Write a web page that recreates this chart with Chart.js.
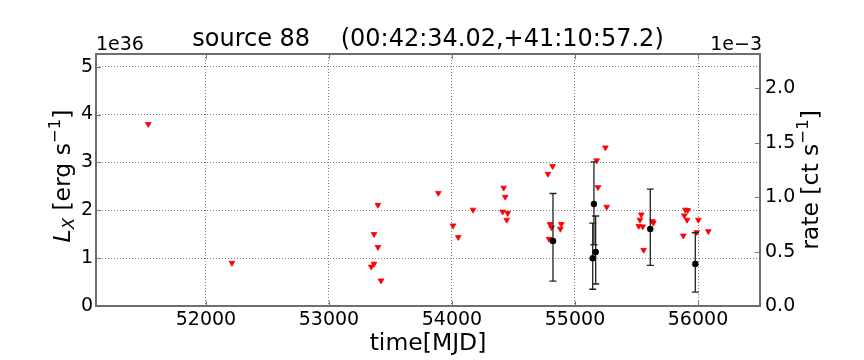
<!DOCTYPE html>
<html>
<head>
<meta charset="utf-8">
<script src="https://cdn.jsdelivr.net/npm/chart.js@4/dist/chart.umd.min.js"></script>
<style>
  html, body { margin: 0; padding: 0; background: #fff; }
  #wrap { width: 864px; height: 360px; }
</style>
</head>
<body>
<div id="wrap"><canvas id="lc" width="864" height="360"></canvas></div>
<script>
// upper limits (red triangles): time [MJD] and L_X [1e36 erg/s]
const limitTimes = [51531, 52211, 53344, 53366, 53366, 53398, 53398, 53423, 53889, 54008,
  54051, 54171, 54412, 54420, 54433, 54445, 54453, 54780, 54789, 54797,
  54810, 54818, 54881, 54889, 55176, 55187, 55247, 55258, 55518, 55528,
  55539, 55550, 55558, 55629, 55637, 55881, 55889, 55897, 55911, 55916,
  55989, 56003, 56084];
const limitLum = [3.80, 0.90, 0.82, 0.88, 1.50, 1.23, 2.11, 0.53, 2.36, 1.68,
  1.44, 2.01, 1.97, 2.47, 2.28, 1.80, 1.94, 2.76, 1.40, 1.71,
  1.64, 2.92, 1.61, 1.71, 3.04, 2.48, 3.31, 2.07, 1.67, 1.80,
  1.91, 1.66, 1.17, 1.77, 1.74, 1.47, 1.89, 2.01, 1.80, 2.00,
  1.54, 1.80, 1.56];

// detections (black dots) with error bar ends
const detTimes = [54821, 55144, 55154, 55168, 55612, 55978];
const detLum   = [1.36, 1.00, 2.13, 1.13, 1.61, 0.88];
const detLow   = [0.52, 0.35, 1.28, 0.46, 0.85, 0.29];
const detHigh  = [2.35, 1.73, 3.01, 1.88, 2.44, 1.53];

// tick labels
const xTickValues = [52000, 53000, 54000, 55000, 56000];
const lumTicks = [0, 1, 2, 3, 4, 5];
const rateTicks = [0, 0.5, 1.0, 1.5, 2.0];

const xMin = 51106, xMax = 56504;
const lumMax = 5.265;   // left axis, units of 1e36
const rateMax = 2.315;  // right axis, units of 1e-3

const FONT = 'DejaVu Sans';

const limitPts = limitTimes.map((t, i) => ({ x: t, y: limitLum[i] }));
const detPts = detTimes.map((t, i) => ({ x: t, y: detLum[i] }));
const fixTicks = vals => s => { s.ticks = vals.map(v => ({ value: v })); };

// error bars, drawn right after the triangles so dots sit on top
const errorBars = {
  id: 'errorBars',
  afterDatasetDraw(chart, args) {
    if (args.index !== 1) return;
    const { ctx, scales: { x, y } } = chart;
    ctx.save();
    ctx.strokeStyle = '#222';
    ctx.lineWidth = 1.3;
    detTimes.forEach((t, i) => {
      const px = x.getPixelForValue(t);
      const lo = y.getPixelForValue(detLow[i]);
      const hi = y.getPixelForValue(detHigh[i]);
      ctx.beginPath();
      ctx.moveTo(px, lo); ctx.lineTo(px, hi);
      ctx.moveTo(px - 3.5, lo); ctx.lineTo(px + 3.5, lo);
      ctx.moveTo(px - 3.5, hi); ctx.lineTo(px + 3.5, hi);
      ctx.stroke();
    });
    ctx.restore();
  }
};

// frame, inward ticks and all the text
const decorations = {
  id: 'decorations',
  afterDraw(chart) {
    const { ctx, chartArea: a, scales } = chart;
    ctx.save();
    // inward ticks
    ctx.strokeStyle = '#777';
    ctx.lineWidth = 1;
    const tl = 5;
    ctx.beginPath();
    scales.x.ticks.forEach(tk => {
      const px = Math.round(scales.x.getPixelForValue(tk.value)) + 0.5;
      ctx.moveTo(px, a.bottom); ctx.lineTo(px, a.bottom - tl);
      ctx.moveTo(px, a.top); ctx.lineTo(px, a.top + tl);
    });
    scales.y.ticks.forEach(tk => {
      const py = Math.round(scales.y.getPixelForValue(tk.value)) + 0.5;
      ctx.moveTo(a.left, py); ctx.lineTo(a.left + tl, py);
    });
    scales.y2.ticks.forEach(tk => {
      const py = Math.round(scales.y2.getPixelForValue(tk.value)) + 0.5;
      ctx.moveTo(a.right, py); ctx.lineTo(a.right - tl, py);
    });
    ctx.stroke();
    // frame
    ctx.strokeStyle = '#6e6e6e';
    ctx.lineWidth = 2;
    ctx.strokeRect(a.left, a.top, a.right - a.left, a.bottom - a.top);

    ctx.fillStyle = '#000';
    ctx.textBaseline = 'alphabetic';
    // title
    ctx.font = '24px "' + FONT + '"';
    ctx.textAlign = 'center';
    ctx.fillText('source 88    (00:42:34.02,+41:10:57.2)', (a.left + a.right) / 2, 46);
    // offset texts
    ctx.font = '19px "' + FONT + '"';
    ctx.textAlign = 'left';
    ctx.fillText('1e36', a.left, 50);
    ctx.textAlign = 'right';
    ctx.fillText('1e\u22123', a.right + 2, 50);
    // x label
    ctx.font = '23.5px "' + FONT + '"';
    ctx.textAlign = 'center';
    ctx.fillText('time[MJD]', (a.left + a.right) / 2, 350);

    // rotated labels built from pieces: [text, size, italic, shift]
    const drawRotated = (parts, cx, cy) => {
      ctx.save();
      ctx.translate(cx, cy);
      ctx.rotate(-Math.PI / 2);
      ctx.textAlign = 'left';
      let total = 0;
      parts.forEach(p => {
        ctx.font = (p[2] ? 'italic ' : '') + p[1] + 'px "' + FONT + '"';
        p.w = ctx.measureText(p[0]).width;
        total += p.w;
      });
      let xx = -total / 2;
      parts.forEach(p => {
        ctx.font = (p[2] ? 'italic ' : '') + p[1] + 'px "' + FONT + '"';
        ctx.fillText(p[0], xx, p[3]);
        xx += p.w;
      });
      ctx.restore();
    };
    drawRotated([
      ['L', 23.5, true, 0],
      ['X', 16.5, true, 4],
      [' [erg s', 23.5, false, 0],
      ['\u22121', 16.5, false, -10],
      [']', 23.5, false, 0]
    ], 70, 176);
    drawRotated([
      ['rate [ct s', 23.5, false, 0],
      ['\u22121', 16.5, false, -10],
      [']', 23.5, false, 0]
    ], 818, 180);
    ctx.restore();
  }
};

new Chart(document.getElementById('lc'), {
  type: 'scatter',
  data: {
    datasets: [
      {
        label: 'detections',
        data: detPts,
        pointStyle: 'circle',
        radius: 3.2,
        backgroundColor: '#000',
        borderColor: '#000',
        borderWidth: 0
      },
      {
        label: 'upper limits',
        data: limitPts,
        pointStyle: 'triangle',
        rotation: 180,
        radius: 3.3,
        backgroundColor: '#ff0000',
        borderColor: '#ff0000',
        borderWidth: 0.8
      }
    ]
  },
  options: {
    responsive: false,
    animation: false,
    devicePixelRatio: 1,
    layout: { padding: { top: 54, left: 0, right: 0, bottom: 0 } },
    plugins: {
      legend: { display: false },
      tooltip: { enabled: false },
      title: { display: false }
    },
    scales: {
      x: {
        type: 'linear',
        min: xMin,
        max: xMax,
        afterFit: s => { s.height = 54; },
        afterBuildTicks: fixTicks(xTickValues),
        ticks: {
          padding: 3,
          color: '#000',
          font: { family: FONT, size: 19 },
          callback: v => String(v)
        },
        grid: { color: '#808080', lineWidth: 1, drawTicks: false },
        border: { display: false, dash: [1, 2] }
      },
      y: {
        position: 'left',
        min: 0,
        max: lumMax,
        afterFit: s => { s.width = 96; },
        afterBuildTicks: fixTicks(lumTicks),
        ticks: {
          padding: 3,
          color: '#000',
          font: { family: FONT, size: 19 }
        },
        grid: { color: '#808080', lineWidth: 1, drawTicks: false },
        border: { display: false, dash: [1, 2] }
      },
      y2: {
        position: 'right',
        display: true,
        min: 0,
        max: rateMax,
        afterFit: s => { s.width = 104; },
        afterBuildTicks: fixTicks(rateTicks),
        ticks: {
          padding: 5,
          color: '#000',
          font: { family: FONT, size: 19 },
          callback: v => v.toFixed(1)
        },
        grid: { display: false, drawTicks: false },
        border: { display: false }
      }
    }
  },
  plugins: [errorBars, decorations]
});
</script>
</body>
</html>
